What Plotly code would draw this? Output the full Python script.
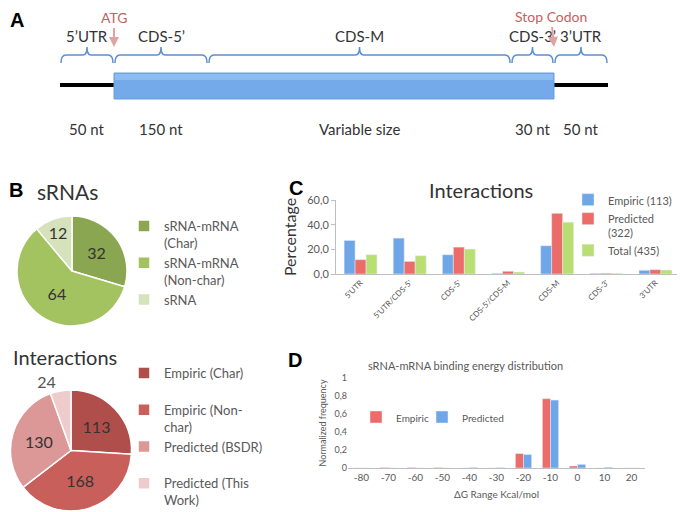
import plotly.graph_objects as go

# ---------------- data ----------------
# Panel A (gene diagram)
a_regions = ["5’UTR", "CDS-5’", "CDS-M", "CDS-3’", "3’UTR"]
a_lengths = ["50 nt", "150 nt", "Variable size", "30 nt", "50 nt"]
a_markers = ["ATG", "Stop Codon"]

# Panel B (pies)
srna_labels = ["sRNA-mRNA<br>(Char)", "sRNA-mRNA<br>(Non-char)", "sRNA"]
srna_values = [32, 64, 12]
inter_labels = ["Empiric (Char)<br> ", "Empiric (Non-<br>char)", "Predicted (BSDR)<br> ", "Predicted (This<br>Work)"]
inter_values = [113, 168, 130, 24]

# Panel C (interaction location)
c_categories = ["5'UTR", "5'UTR/CDS-5'", "CDS-5'", "CDS-5'/CDS-M", "CDS-M", "CDS-3'", "3'UTR"]
c_series = ["Empiric (113)", "Predicted<br>(322)", "Total (435)"]
c_empiric = [27.2, 29.1, 15.6, 0.5, 22.9, 0.5, 3.0]
c_predicted = [11.6, 10.2, 21.8, 2.2, 49.2, 0.6, 3.5]
c_total = [15.6, 14.8, 20.2, 1.6, 42.0, 0.5, 3.2]

# Panel D (binding energy)
d_bins = ["-80", "-70", "-60", "-50", "-40", "-30", "-20", "-10", "0", "10", "20"]
d_series = ["Empiric", "Predicted"]
d_empiric = [0.0, 0.005, 0.005, 0.005, 0.0, 0.0, 0.16, 0.77, 0.022, 0.0, 0.0]
d_predicted = [0.0, 0.0, 0.0, 0.0, 0.006, 0.004, 0.15, 0.755, 0.04, 0.008, 0.0]

# ---------------- layout helpers ----------------
W, H = 685, 512
OFF = 8          # page body margin: figure starts 8 px right/down in the window
FONT = "Lato"


def px(x):
    return (x - OFF) / W


def py(y):
    return 1 - (y - OFF) / H


# diagram layout (diagram units on panel A axes)
A_EDGES = [60, 114, 208, 511, 554, 608]

fig = go.Figure()

# ---------------- Panel B pies ----------------
fig.add_trace(go.Pie(
    labels=srna_labels, values=srna_values, sort=False, direction="clockwise",
    marker=dict(colors=["#8ba650", "#a3c260", "#d5e2bb"], line=dict(color="white", width=1.5)),
    textinfo="value", textposition="inside", insidetextorientation="horizontal",
    textfont=dict(family=FONT, size=16, color="#333333"),
    domain=dict(x=[px(17), px(127)], y=[py(326), py(216)]),
    legend="legend", showlegend=True, hoverinfo="label+value",
))
fig.add_trace(go.Pie(
    labels=inter_labels, values=inter_values, sort=False, direction="clockwise",
    marker=dict(colors=["#b04e4c", "#c95f5b", "#db9896", "#eecccb"], line=dict(color="white", width=1.5)),
    textinfo="value", textposition=["inside", "inside", "inside", "outside"],
    insidetextorientation="horizontal",
    textfont=dict(family=FONT, size=16, color="#333333"),
    outsidetextfont=dict(family=FONT, size=16, color="#555555"),
    domain=dict(x=[px(10), px(132)], y=[py(511), py(390)]),
    legend="legend2", showlegend=True, hoverinfo="label+value",
))

# ---------------- Panel C bars ----------------
for name, vals, col in zip(c_series, [c_empiric, c_predicted, c_total],
                           ["#6fa6e8", "#ec6c6a", "#b9df74"]):
    fig.add_trace(go.Bar(x=c_categories, y=vals, name=name, marker_color=col,
                         xaxis="x2", yaxis="y2", legend="legend3"))

# ---------------- Panel D bars ----------------
for name, vals, col, off, lg in zip(d_series, [d_empiric, d_predicted],
                                    ["#ec6c6a", "#6fa6e8"], [-0.3, 0.0], ["legend4", "legend5"]):
    fig.add_trace(go.Bar(x=d_bins, y=vals, name=name, marker_color=col,
                         width=0.3, offset=off,
                         xaxis="x3", yaxis="y3", legend=lg))

# ---------------- Panel A diagram ----------------
shapes = []
annotations = []
line_y = 85
# black UTR lines
shapes.append(dict(type="line", xref="x4", yref="y4", x0=A_EDGES[0], x1=A_EDGES[1],
                   y0=line_y, y1=line_y, line=dict(color="black", width=4)))
shapes.append(dict(type="line", xref="x4", yref="y4", x0=A_EDGES[4], x1=A_EDGES[5],
                   y0=line_y, y1=line_y, line=dict(color="black", width=4)))
# CDS box
shapes.append(dict(type="rect", xref="x4", yref="y4", x0=A_EDGES[1], x1=A_EDGES[4],
                   y0=73, y1=99, fillcolor="#74aaea", line=dict(color="#6a9ede", width=1)))
shapes.append(dict(type="rect", xref="x4", yref="y4", x0=A_EDGES[1] + 1, x1=A_EDGES[4] - 1,
                   y0=74, y1=80, fillcolor="#8dbcf0", line=dict(width=0)))


def brace(x0, x1, yb=63, yl=55, yt=47):
    xc = (x0 + x1) / 2
    return (f"M{x0},{yb} Q{x0},{yl} {x0+5},{yl} L{xc-4},{yl} Q{xc},{yl} {xc},{yt} "
            f"Q{xc},{yl} {xc+4},{yl} L{x1-5},{yl} Q{x1},{yl} {x1},{yb}")


for i, (reg, ln) in enumerate(zip(a_regions, a_lengths)):
    x0, x1 = A_EDGES[i] + 1, A_EDGES[i + 1] - 1
    xc = (x0 + x1) / 2
    shapes.append(dict(type="path", xref="x4", yref="y4", path=brace(x0, x1),
                       line=dict(color="#5b8fd0", width=1.5)))
    annotations.append(dict(xref="x4", yref="y4", x=xc, y=36, text=reg, showarrow=False,
                            xanchor="center", yanchor="middle",
                            font=dict(family=FONT, size=15, color="#333333")))
    annotations.append(dict(xref="x4", yref="y4", x=xc, y=129, text=ln, showarrow=False,
                            xanchor="center", yanchor="middle",
                            font=dict(family=FONT, size=15, color="#333333")))

for mk, xe, ty in zip(a_markers, [A_EDGES[1], A_EDGES[4]], [17, 16]):
    annotations.append(dict(xref="x4", yref="y4", x=xe, y=47, ax=xe - (3 if mk != "ATG" else 0),
                            ay=ty, axref="x4", ayref="y4", text=mk, showarrow=True,
                            arrowhead=2, arrowsize=1, arrowwidth=2, arrowcolor="#e0a3a1",
                            standoff=0, startstandoff=1,
                            font=dict(family=FONT, size=14, color="#c9605e")))


def label(text, x, y, size, color="#333333", family=FONT):
    annotations.append(dict(xref="paper", yref="paper", x=px(x), y=py(y), text=text,
                            xanchor="center", yanchor="middle", showarrow=False,
                            font=dict(family=family, size=size, color=color)))


# panel letters
for letter, x, y in [("A", 17, 20), ("B", 16, 190), ("C", 296, 188), ("D", 295, 360)]:
    label(f"<b>{letter}</b>", x, y, 20, "black", "Liberation Sans")

# titles
label("sRNAs", 67, 191, 21)
label("Interactions", 65, 357, 20)
label("Interactions", 481, 190, 20)
label("sRNA-mRNA binding energy distribution", 465, 365, 11, "#595959")

legend_common = dict(xanchor="left", yanchor="top", valign="top", bgcolor="rgba(0,0,0,0)",
                     itemclick=False, itemdoubleclick=False)

fig.update_layout(
    width=W, height=H, margin=dict(l=0, r=0, t=0, b=0, autoexpand=False),
    paper_bgcolor="white", plot_bgcolor="rgba(0,0,0,0)",
    separators=",.",
    barmode="group", bargap=0.33, bargroupgap=0,
    font=dict(family=FONT, color="#595959"),
    shapes=shapes, annotations=annotations,
    xaxis4=dict(domain=[0, 1], range=[OFF, W + OFF], visible=False, fixedrange=True),
    yaxis4=dict(domain=[py(158), 1], range=[158, OFF], visible=False, fixedrange=True),
    xaxis2=dict(domain=[px(336), px(680)], anchor="y2", type="category",
                showline=True, linecolor="#bfbfbf", linewidth=1, ticks="",
                tickangle=-45, tickfont=dict(family=FONT, size=8, color="#595959")),
    yaxis2=dict(domain=[py(274), py(200)], anchor="x2", range=[0, 60], dtick=20,
                tickformat=".1f", showgrid=False, zeroline=False,
                showline=True, linecolor="#bfbfbf", ticks="outside", ticklen=4, tickcolor="#bfbfbf",
                tickfont=dict(family=FONT, size=11, color="#595959"),
                title=dict(text="Percentage", font=dict(family=FONT, size=16, color="#333333"), standoff=6)),
    xaxis3=dict(domain=[px(348), px(645)], anchor="y3", type="category",
                showline=True, linecolor="#bfbfbf", linewidth=1, ticks="",
                tickfont=dict(family=FONT, size=10, color="#595959"),
                title=dict(text="ΔG Range Kcal/mol", font=dict(family=FONT, size=10, color="#595959"), standoff=8)),
    yaxis3=dict(domain=[py(468), py(378)], anchor="x3", range=[0, 1], dtick=0.2,
                showgrid=False, zeroline=False, showline=False,
                tickfont=dict(family=FONT, size=9, color="#595959"),
                title=dict(text="Normalized frequency", font=dict(family=FONT, size=9, color="#595959"), standoff=6)),
    legend=dict(x=px(124), y=py(211), font=dict(family=FONT, size=13, color="#595959"), **legend_common),
    legend2=dict(x=px(124), y=py(358), font=dict(family=FONT, size=13, color="#595959"), **legend_common),
    legend3=dict(x=px(568), y=py(186), font=dict(family=FONT, size=11, color="#595959"), **legend_common),
    legend4=dict(x=px(356), y=py(404), font=dict(family=FONT, size=10, color="#595959"), **legend_common),
    legend5=dict(x=px(422), y=py(404), font=dict(family=FONT, size=10, color="#595959"), **legend_common),
)

fig.write_html("out.html")
